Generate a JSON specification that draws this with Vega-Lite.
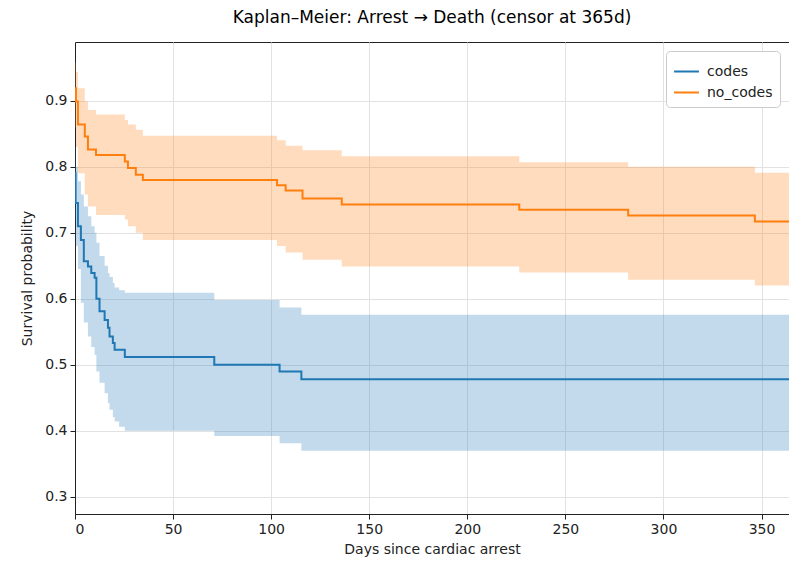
{
  "$schema": "https://vega.github.io/schema/vega-lite/v6.json",
  "width": 714,
  "height": 472,
  "autosize": {"type": "none"},
  "padding": {"left": 75, "top": 42, "right": 0, "bottom": 52},
  "background": "white",
  "title": {"text": "Kaplan–Meier: Arrest → Death (censor at 365d)", "fontSize": 17, "font": "DejaVu Sans", "fontWeight": "normal", "color": "black", "offset": 15},
  "config": {
    "font": "DejaVu Sans",
    "view": {"stroke": "#222", "strokeWidth": 1},
    "axis": {"labelFont": "DejaVu Sans", "titleFont": "DejaVu Sans", "labelFontSize": 14, "titleFontSize": 14, "titleFontWeight": "normal", "labelColor": "#222", "titleColor": "#222", "domainColor": "#222", "tickColor": "#222", "tickSize": 5, "gridColor": "#e2e2e2", "gridWidth": 1}
  },
  "data": {"values": [
    {"group": "codes", "day": 0, "S": 0.790, "lo": 0.720, "hi": 0.830},
    {"group": "codes", "day": 0.3, "S": 0.745, "lo": 0.680, "hi": 0.800},
    {"group": "codes", "day": 1.5, "S": 0.710, "lo": 0.645, "hi": 0.778},
    {"group": "codes", "day": 3, "S": 0.689, "lo": 0.594, "hi": 0.758},
    {"group": "codes", "day": 4.5, "S": 0.657, "lo": 0.564, "hi": 0.740},
    {"group": "codes", "day": 6.6, "S": 0.649, "lo": 0.543, "hi": 0.725},
    {"group": "codes", "day": 8.3, "S": 0.639, "lo": 0.527, "hi": 0.710},
    {"group": "codes", "day": 10, "S": 0.632, "lo": 0.515, "hi": 0.700},
    {"group": "codes", "day": 10.9, "S": 0.600, "lo": 0.490, "hi": 0.685},
    {"group": "codes", "day": 12.5, "S": 0.581, "lo": 0.473, "hi": 0.665},
    {"group": "codes", "day": 15.1, "S": 0.568, "lo": 0.457, "hi": 0.650},
    {"group": "codes", "day": 16.8, "S": 0.556, "lo": 0.442, "hi": 0.639},
    {"group": "codes", "day": 17.6, "S": 0.543, "lo": 0.432, "hi": 0.633},
    {"group": "codes", "day": 19.3, "S": 0.533, "lo": 0.421, "hi": 0.624},
    {"group": "codes", "day": 20.2, "S": 0.523, "lo": 0.414, "hi": 0.617},
    {"group": "codes", "day": 22.5, "S": 0.523, "lo": 0.406, "hi": 0.613},
    {"group": "codes", "day": 25.4, "S": 0.512, "lo": 0.400, "hi": 0.609},
    {"group": "codes", "day": 71, "S": 0.500, "lo": 0.392, "hi": 0.598},
    {"group": "codes", "day": 104.3, "S": 0.490, "lo": 0.381, "hi": 0.587},
    {"group": "codes", "day": 115.4, "S": 0.478, "lo": 0.370, "hi": 0.576},
    {"group": "codes", "day": 364, "S": 0.478, "lo": 0.370, "hi": 0.576},
    {"group": "no_codes", "day": 0, "S": 0.919, "lo": 0.860, "hi": 0.958},
    {"group": "no_codes", "day": 0.5, "S": 0.899, "lo": 0.830, "hi": 0.944},
    {"group": "no_codes", "day": 1.5, "S": 0.864, "lo": 0.790, "hi": 0.919},
    {"group": "no_codes", "day": 5, "S": 0.846, "lo": 0.758, "hi": 0.899},
    {"group": "no_codes", "day": 6.6, "S": 0.826, "lo": 0.740, "hi": 0.886},
    {"group": "no_codes", "day": 10.7, "S": 0.818, "lo": 0.727, "hi": 0.879},
    {"group": "no_codes", "day": 25.4, "S": 0.808, "lo": 0.720, "hi": 0.871},
    {"group": "no_codes", "day": 27, "S": 0.798, "lo": 0.710, "hi": 0.864},
    {"group": "no_codes", "day": 31, "S": 0.788, "lo": 0.700, "hi": 0.856},
    {"group": "no_codes", "day": 34.6, "S": 0.780, "lo": 0.689, "hi": 0.847},
    {"group": "no_codes", "day": 103, "S": 0.772, "lo": 0.680, "hi": 0.840},
    {"group": "no_codes", "day": 107.4, "S": 0.764, "lo": 0.670, "hi": 0.832},
    {"group": "no_codes", "day": 116, "S": 0.752, "lo": 0.659, "hi": 0.825},
    {"group": "no_codes", "day": 136, "S": 0.743, "lo": 0.649, "hi": 0.816},
    {"group": "no_codes", "day": 226.5, "S": 0.735, "lo": 0.640, "hi": 0.807},
    {"group": "no_codes", "day": 282, "S": 0.726, "lo": 0.629, "hi": 0.800},
    {"group": "no_codes", "day": 346.6, "S": 0.717, "lo": 0.620, "hi": 0.791},
    {"group": "no_codes", "day": 364, "S": 0.717, "lo": 0.620, "hi": 0.791}
  ]},
  "encoding": {
    "x": {"field": "day", "type": "quantitative", "scale": {"domain": [0, 364], "nice": false, "zero": false},
          "axis": {"title": "Days since cardiac arrest", "values": [0, 50, 100, 150, 200, 250, 300, 350], "format": "d", "grid": true, "titlePadding": 6, "labelPadding": 3}},
    "color": {"field": "group", "type": "nominal", "title": null, "scale": {"domain": ["codes", "no_codes"], "range": ["#1f77b4", "#ff7f0e"]},
              "legend": {"title": null, "orient": "top-right", "offset": 9, "symbolType": "stroke", "symbolSize": 620, "symbolStrokeWidth": 2, "symbolOpacity": 1, "labelFontSize": 14, "labelFont": "DejaVu Sans", "labelColor": "#222", "fillColor": "white", "strokeColor": "#cccccc", "cornerRadius": 4, "padding": 7, "rowPadding": 0, "labelOffset": 7}}
  },
  "layer": [
    {
      "mark": {"type": "area", "interpolate": "step-after", "opacity": 0.27, "clip": true},
      "encoding": {
        "y": {"field": "lo", "type": "quantitative", "scale": {"domain": [0.274, 0.989], "nice": false, "zero": false},
              "axis": {"title": "Survival probability", "values": [0.3, 0.4, 0.5, 0.6, 0.7, 0.8, 0.9], "format": ".1f", "grid": true, "titlePadding": 10, "labelPadding": 3}},
        "y2": {"field": "hi"}
      }
    },
    {
      "mark": {"type": "line", "interpolate": "step-after", "strokeWidth": 2, "clip": true},
      "encoding": {
        "y": {"field": "S", "type": "quantitative"}
      }
    }
  ]
}
